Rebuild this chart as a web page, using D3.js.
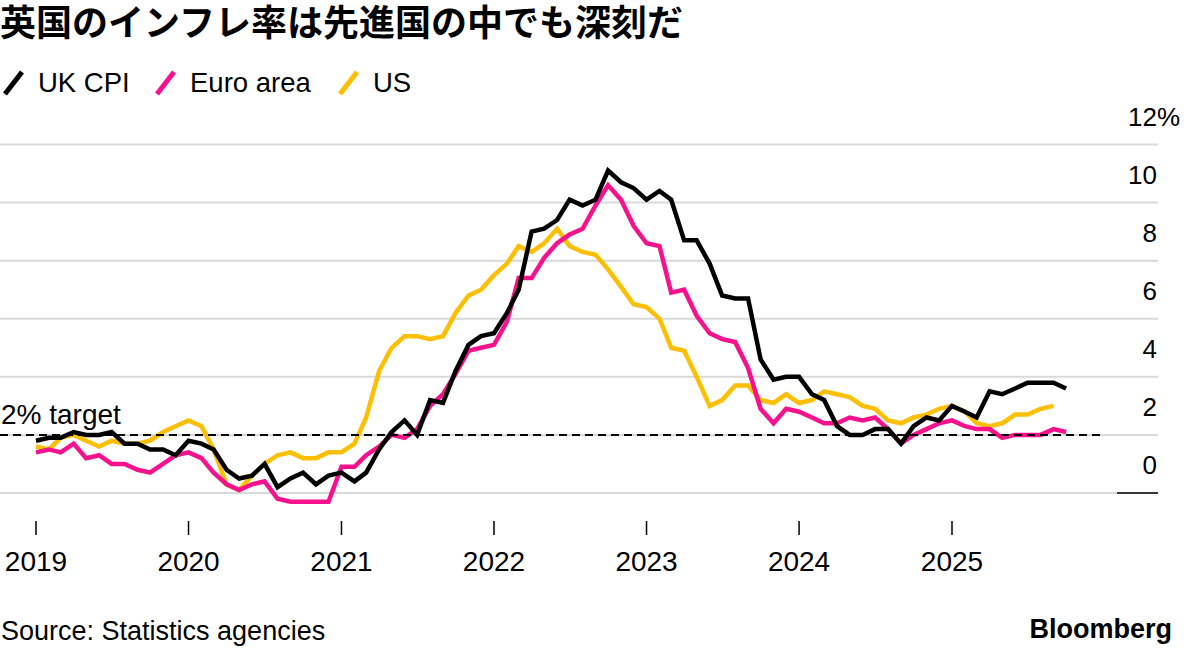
<!DOCTYPE html>
<html>
<head>
<meta charset="utf-8">
<script src="https://cdn.jsdelivr.net/npm/d3@7"></script>
<style>
  body { margin: 0; background: #fff; }
  svg text { font-family: "Liberation Sans", Arial, sans-serif; }
</style>
</head>
<body>
<div id="chart"></div>
<script>
// monthly year-on-year inflation, starting Jan 2019
var startMonth = new Date(2019, 0, 1);
var ukCpi = [1.8, 1.9, 1.9, 2.1, 2.0, 2.0, 2.1, 1.7, 1.7, 1.5, 1.5, 1.3,
             1.8, 1.7, 1.5, 0.8, 0.5, 0.6, 1.0, 0.2, 0.5, 0.7, 0.3, 0.6,
             0.7, 0.4, 0.7, 1.5, 2.1, 2.5, 2.0, 3.2, 3.1, 4.2, 5.1, 5.4,
             5.5, 6.2, 7.0, 9.0, 9.1, 9.4, 10.1, 9.9, 10.1, 11.1, 10.7, 10.5,
             10.1, 10.4, 10.1, 8.7, 8.7, 7.9, 6.8, 6.7, 6.7, 4.6, 3.9, 4.0,
             4.0, 3.4, 3.2, 2.3, 2.0, 2.0, 2.2, 2.2, 1.7, 2.3, 2.6, 2.5,
             3.0, 2.8, 2.6, 3.5, 3.4, 3.6, 3.8, 3.8, 3.8, 3.6];
var euroArea = [1.4, 1.5, 1.4, 1.7, 1.2, 1.3, 1.0, 1.0, 0.8, 0.7, 1.0, 1.3,
                1.4, 1.2, 0.7, 0.3, 0.1, 0.3, 0.4, -0.2, -0.3, -0.3, -0.3, -0.3,
                0.9, 0.9, 1.3, 1.6, 2.0, 1.9, 2.2, 3.0, 3.4, 4.1, 4.9, 5.0,
                5.1, 5.9, 7.4, 7.4, 8.1, 8.6, 8.9, 9.1, 9.9, 10.6, 10.1, 9.2,
                8.6, 8.5, 6.9, 7.0, 6.1, 5.5, 5.3, 5.2, 4.3, 2.9, 2.4, 2.9,
                2.8, 2.6, 2.4, 2.4, 2.6, 2.5, 2.6, 2.2, 1.7, 2.0, 2.2, 2.4,
                2.5, 2.3, 2.2, 2.2, 1.9, 2.0, 2.0, 2.0, 2.2, 2.1];
var usCpi = [1.6, 1.5, 1.9, 2.0, 1.8, 1.6, 1.8, 1.7, 1.7, 1.8, 2.1, 2.3,
             2.5, 2.3, 1.5, 0.3, 0.1, 0.6, 1.0, 1.3, 1.4, 1.2, 1.2, 1.4,
             1.4, 1.7, 2.6, 4.2, 5.0, 5.4, 5.4, 5.3, 5.4, 6.2, 6.8, 7.0,
             7.5, 7.9, 8.5, 8.3, 8.6, 9.1, 8.5, 8.3, 8.2, 7.7, 7.1, 6.5,
             6.4, 6.0, 5.0, 4.9, 4.0, 3.0, 3.2, 3.7, 3.7, 3.2, 3.1, 3.4,
             3.1, 3.2, 3.5, 3.4, 3.3, 3.0, 2.9, 2.5, 2.4, 2.6, 2.7, 2.9,
             3.0, 2.8, 2.4, 2.3, 2.4, 2.7, 2.7, 2.9, 3.0];
var seriesNames = ['UK CPI', 'Euro area', 'US'];
var seriesColors = ['#000000', '#f7118c', '#fdbf00'];
var yTicks = [0, 2, 4, 6, 8, 10, 12];
var yearTicks = [2019, 2020, 2021, 2022, 2023, 2024, 2025];
var target = 2;

var w = 1184, h = 648;

var svg = d3.select('#chart').append('svg')
    .attr('width', w)
    .attr('height', h);

var x = d3.scaleTime()
    .domain([new Date(2019, 0, 1), new Date(2025, 0, 1)])
    .range([36, 952]);
var y = d3.scaleLinear()
    .domain([0, 12])
    .range([493, 144.5]);

// title
svg.append('text')
    .attr('x', 0).attr('y', 36)
    .style('font-family', '"Noto Sans CJK JP", sans-serif')
    .style('font-weight', 700)
    .style('font-size', '36px')
    .text('英国のインフレ率は先進国の中でも深刻だ');

// legend
var legendX = [3, 155, 338];
var legend = svg.selectAll('.legend')
    .data(seriesNames)
    .enter().append('g')
    .attr('transform', function(d, i){ return 'translate(' + legendX[i] + ',0)'; });
legend.append('line')
    .attr('x1', 2).attr('y1', 94)
    .attr('x2', 19).attr('y2', 72)
    .attr('stroke', function(d, i){ return seriesColors[i]; })
    .attr('stroke-width', 5);
legend.append('text')
    .attr('x', 35).attr('y', 92)
    .style('font-size', '27.5px')
    .text(function(d){ return d; });

// gridlines
svg.selectAll('.grid')
    .data(yTicks)
    .enter().append('line')
    .attr('x1', 0).attr('x2', 1158)
    .attr('y1', function(d){ return y(d); })
    .attr('y2', function(d){ return y(d); })
    .attr('stroke', '#d9d9d9')
    .attr('stroke-width', 2);
svg.append('line')
    .attr('x1', 1117).attr('x2', 1158)
    .attr('y1', y(0)).attr('y2', y(0))
    .attr('stroke', '#000')
    .attr('stroke-width', 1.5);

// y labels, sitting above their gridlines; the % hangs past the right edge
svg.selectAll('.ylab')
    .data(yTicks)
    .enter().append('text')
    .attr('x', 1157)
    .attr('y', function(d){ return y(d) - 19; })
    .attr('text-anchor', 'end')
    .style('font-size', '26px')
    .text(function(d){ return d; });
svg.append('text')
    .attr('x', 1157)
    .attr('y', y(12) - 19)
    .style('font-size', '26px')
    .text('%');

// x axis ticks and labels
var xAxis = svg.append('g');
xAxis.selectAll('line')
    .data(yearTicks)
    .enter().append('line')
    .attr('x1', function(d){ return x(new Date(d, 0, 1)); })
    .attr('x2', function(d){ return x(new Date(d, 0, 1)); })
    .attr('y1', 521).attr('y2', 535)
    .attr('stroke', '#000')
    .attr('stroke-width', 1.5);
xAxis.selectAll('text')
    .data(yearTicks)
    .enter().append('text')
    .attr('x', function(d){ return x(new Date(d, 0, 1)); })
    .attr('y', 571)
    .attr('text-anchor', 'middle')
    .style('font-size', '28px')
    .text(function(d){ return d; });

// lines
var line = d3.line()
    .x(function(d, i){ return x(d3.timeMonth.offset(startMonth, i)); })
    .y(function(d){ return y(d); });

var allSeries = [ukCpi, euroArea, usCpi];
var order = [2, 1, 0]; // draw US first, UK on top
svg.selectAll('.series')
    .data(order)
    .enter().append('path')
    .attr('d', function(k){ return line(allSeries[k]); })
    .attr('fill', 'none')
    .attr('stroke', function(k){ return seriesColors[k]; })
    .attr('stroke-width', 4.5);

// 2% target
svg.append('line')
    .attr('x1', 0).attr('x2', 1100)
    .attr('y1', y(target)).attr('y2', y(target))
    .attr('stroke', '#000')
    .attr('stroke-width', 2)
    .attr('stroke-dasharray', '8,5');
svg.append('text')
    .attr('x', 1).attr('y', 424)
    .style('font-size', '28px')
    .text('2% target');

// footer
svg.append('text')
    .attr('x', 1).attr('y', 640)
    .style('font-size', '27px')
    .text('Source: Statistics agencies');
svg.append('text')
    .attr('x', 1172).attr('y', 638)
    .attr('text-anchor', 'end')
    .style('font-size', '27px')
    .style('font-weight', 700)
    .text('Bloomberg');
</script>
</body>
</html>
